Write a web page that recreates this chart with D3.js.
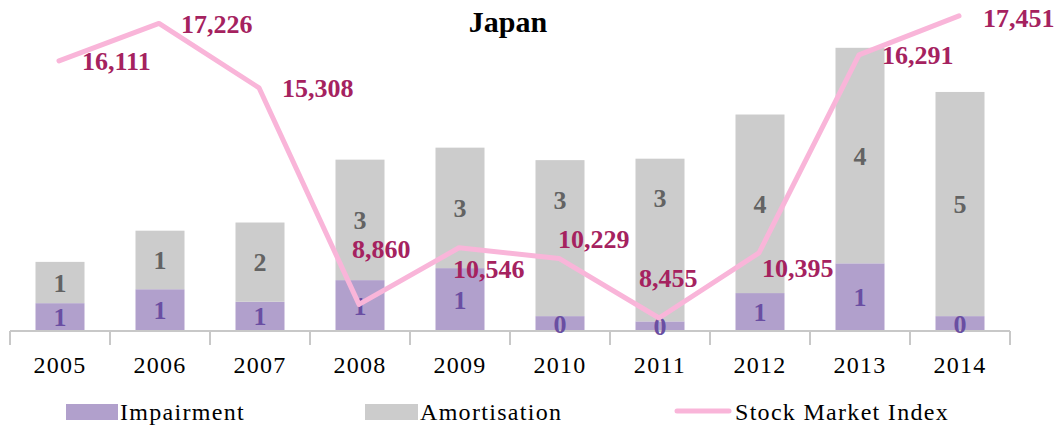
<!DOCTYPE html>
<html>
<head>
<meta charset="utf-8">
<script src="https://cdn.jsdelivr.net/npm/d3@7"></script>
<style>
  body { margin: 0; background: #fff; }
  svg { display: block; }
</style>
</head>
<body>
<svg id="canvas" width="1054" height="428"></svg>
<script>
let years = ['2005','2006','2007','2008','2009','2010','2011','2012','2013','2014'];
let impairment = [0.58, 0.87, 0.61, 1.06, 1.31, 0.31, 0.20, 0.79, 1.41, 0.31];
let amortisation = [0.86, 1.22, 1.65, 2.51, 2.51, 3.25, 3.39, 3.72, 4.49, 4.67];
let stockIndex = [16111, 17226, 15308, 8860, 10546, 10229, 8455, 10395, 16291, 17451];

// label nudges for the index values (Excel had them moved by hand)
let labelShift = [[22,9],[21,10],[22,9],[-8,-46],[-7,30],[-2,-10],[-21,-31],[2,24],[22,9],[23,11]];
// amortisation labels of 2010/2011 were lifted out of the way
let amShift = [0, 0, 0, 0, 0, -38, -42, 0, 0, 0];

let canvas = d3.select('#canvas');
let serif = '"Liberation Serif", "Times New Roman", serif';

let x = d3.scaleBand().domain(years).range([10, 1010]).paddingInner(0.51).paddingOuter(0.255);
let y = d3.scaleLinear().domain([0, 7]).range([331, -5]);
let y2 = d3.scaleLinear().domain([8000, 18000]).range([333.3, -2.6]);

let rows = years.map((yr, i) => ({year: yr, imp: impairment[i], am: amortisation[i], idx: stockIndex[i]}));

// bars
let bars = canvas.append('g');
bars.selectAll('.imp').data(rows).enter().append('rect')
    .attr('class','imp')
    .attr('x', d => x(d.year))
    .attr('width', x.bandwidth())
    .attr('y', d => y(d.imp))
    .attr('height', d => y(0) - y(d.imp))
    .attr('fill', '#b1a0cc');
bars.selectAll('.am').data(rows).enter().append('rect')
    .attr('class','am')
    .attr('x', d => x(d.year))
    .attr('width', x.bandwidth())
    .attr('y', d => y(d.imp + d.am))
    .attr('height', d => y(d.imp) - y(d.imp + d.am))
    .attr('fill', '#cccccc');

// axis
let xAxis = canvas.append('g');
xAxis.append('line')
    .attr('x1', 10).attr('x2', 1010).attr('y1', 331).attr('y2', 331)
    .attr('stroke', '#c8c8c8').attr('stroke-width', 2);
let step = x.step();
xAxis.selectAll('.tick').data(d3.range(years.length + 1)).enter().append('line')
    .attr('x1', i => 10 + i * step).attr('x2', i => 10 + i * step)
    .attr('y1', 331).attr('y2', 345)
    .attr('stroke', '#c8c8c8').attr('stroke-width', 2);
xAxis.selectAll('text').data(years).enter().append('text')
    .attr('x', d => x(d) + x.bandwidth() / 2)
    .attr('y', 373)
    .attr('text-anchor', 'middle')
    .style('font-family', serif).style('font-size', '24px').style('letter-spacing', '1.3px')
    .attr('fill', '#000')
    .text(d => d);

// bar value labels
canvas.selectAll('.amLabel').data(rows).enter().append('text')
    .attr('x', d => x(d.year) + x.bandwidth() / 2)
    .attr('y', (d, i) => (y(d.imp) + y(d.imp + d.am)) / 2 + 9 + amShift[i])
    .attr('text-anchor', 'middle')
    .style('font-family', serif).style('font-size', '26px').style('font-weight', 'bold')
    .attr('fill', '#636363')
    .text(d => Math.round(d.am));
canvas.selectAll('.impLabel').data(rows).enter().append('text')
    .attr('x', d => x(d.year) + x.bandwidth() / 2)
    .attr('y', d => (y(0) + y(d.imp)) / 2 + 9)
    .attr('text-anchor', 'middle')
    .style('font-family', serif).style('font-size', '26px').style('font-weight', 'bold')
    .attr('fill', '#6a4ea2')
    .text(d => Math.round(d.imp));

// stock market line
let line = d3.line()
    .x(d => x(d.year) + x.bandwidth() / 2 - 1)
    .y(d => y2(d.idx));
canvas.append('path')
    .datum(rows)
    .attr('d', line)
    .attr('fill', 'none')
    .attr('stroke', '#f9b5d9')
    .attr('stroke-width', 5)
    .attr('stroke-linecap', 'round')
    .attr('stroke-linejoin', 'round');

canvas.selectAll('.idxLabel').data(rows).enter().append('text')
    .attr('x', (d, i) => x(d.year) + x.bandwidth() / 2 + labelShift[i][0])
    .attr('y', (d, i) => y2(d.idx) + labelShift[i][1])
    .style('font-family', serif).style('font-size', '26px').style('font-weight', 'bold')
    .attr('fill', '#a5225f')
    .text(d => d3.format(',')(d.idx));

// title
canvas.append('text')
    .attr('x', 508).attr('y', 32)
    .attr('text-anchor', 'middle')
    .style('font-family', serif).style('font-size', '30px').style('font-weight', 'bold')
    .attr('fill', '#000')
    .text('Japan');

// legend
let legend = canvas.append('g');
legend.append('rect').attr('x', 66).attr('y', 404).attr('width', 52).attr('height', 16).attr('fill', '#b1a0cc');
legend.append('rect').attr('x', 365).attr('y', 404).attr('width', 53).attr('height', 16).attr('fill', '#cccccc');
legend.append('line').attr('x1', 677).attr('x2', 729).attr('y1', 411).attr('y2', 411)
    .attr('stroke', '#f9b5d9').attr('stroke-width', 5).attr('stroke-linecap', 'round');
let legendText = [['Impairment', 120], ['Amortisation', 420], ['Stock Market Index', 735]];
legend.selectAll('text').data(legendText).enter().append('text')
    .attr('x', d => d[1]).attr('y', 420)
    .style('font-family', serif).style('font-size', '24px').style('letter-spacing', '1.3px')
    .attr('fill', '#000')
    .text(d => d[0]);
</script>
</body>
</html>
